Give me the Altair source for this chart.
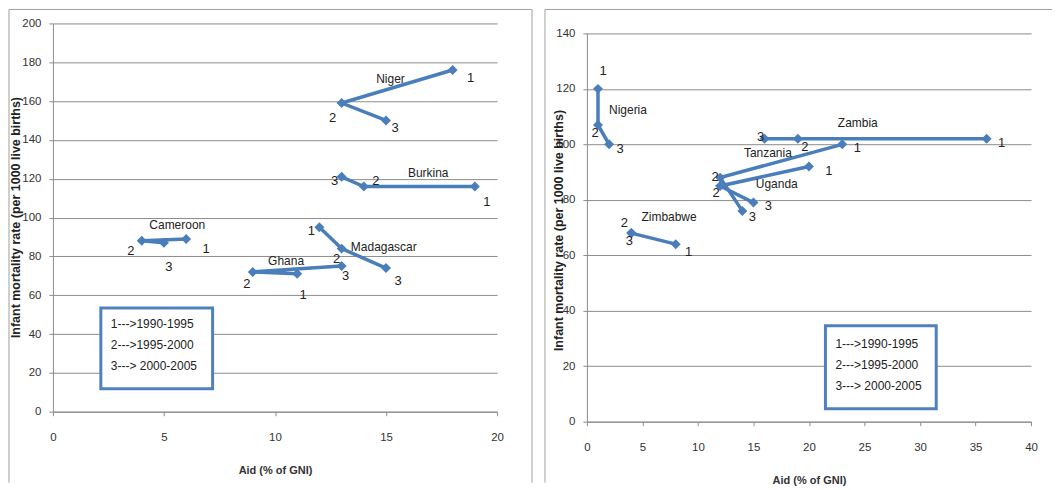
import altair as alt
import pandas as pd

# ---------------- data ----------------
left_country = ["Niger"] * 3 + ["Burkina"] * 3 + ["Cameroon"] * 3 + ["Madagascar"] * 3 + ["Ghana"] * 3
left_period = [1, 2, 3] * 5
left_aid = [18, 13, 15, 19, 14, 13, 6, 4, 5, 12, 13, 15, 11, 9, 13]
left_imr = [176, 159, 150, 116, 116, 121, 89, 88, 87, 95, 84, 74, 71, 72, 75]

right_country = ["Nigeria"] * 3 + ["Zambia"] * 3 + ["Tanzania"] * 3 + ["Uganda"] * 3 + ["Zimbabwe"] * 3
right_period = [1, 2, 3] * 5
right_aid = [1, 1, 2, 36, 19, 16, 23, 12, 14, 20, 12, 15, 8, 4, 4]
right_imr = [120, 107, 100, 102, 102, 102, 100, 88, 76, 92, 85, 79, 64, 68, 68]

legend_lines = ["1--->1990-1995", "2--->1995-2000", "3---> 2000-2005"]
x_title = "Aid (% of GNI)"
y_title = "Infant mortality rate (per 1000 live births)"

left_xticks = [0, 5, 10, 15, 20]
left_yticks = [0, 20, 40, 60, 80, 100, 120, 140, 160, 180, 200]
right_xticks = [0, 5, 10, 15, 20, 25, 30, 35, 40]
right_yticks = [0, 20, 40, 60, 80, 100, 120, 140]

# ---------------- layout (pixel offsets / label anchors) ----------------
left_dx = [18, -9, 9, 12, 12, -7, 20, -11, 5, -8, -5, 12, 6, -6, 4]
left_dy = [8, 15, 8, 16, -5, 4, 10, 10, 24, 4, 10, 13, 21, 12, 10]
right_dx = [5, -3, 11, 15, 7, -4, 15, -5, 10, 20, -4, 15, 13, -7, -2]
right_dy = [-18, 8, 5, 4, 8, -2, 4, -1, 6, 4, 7, 3, 8, -10, 8]

left_names = {"Niger": (15.2, 171.4), "Burkina": (16.9, 122.7), "Cameroon": (5.6, 96.4),
              "Madagascar": (14.9, 84.8), "Ghana": (10.5, 77.6)}
right_names = {"Nigeria": (3.7, 112.5), "Zambia": (24.4, 107.7), "Tanzania": (16.3, 96.9),
               "Uganda": (17.1, 85.8), "Zimbabwe": (7.4, 73.8)}

BLUE = "#4A7EBB"
GRID = "#8C8C8C"
FONT = "Liberation Sans"
W = 445


def make_df(country, period, aid, imr, dx, dy, xmax, ymax, plot_h):
    df = pd.DataFrame({"country": country, "period": period, "aid": aid, "imr": imr})
    df["lx"] = df["aid"] + pd.Series(dx) * (xmax / W)
    df["ly"] = df["imr"] - pd.Series(dy) * (ymax / plot_h)
    return df


def panel(df, names, xmax, ymax, xticks, yticks, height, yrange, frame, legend_box, legend_xy,
          ytitle_xy):
    xscale = alt.Scale(domain=[0, xmax], nice=False, zero=False)
    yscale = alt.Scale(domain=[0, ymax], nice=False, zero=False, range=yrange)
    xaxis = alt.Axis(values=xticks, title=x_title, grid=False, domainColor=GRID, tickColor=GRID,
                     tickSize=4, labelPadding=16, labelFontSize=11.5, labelColor="#333333",
                     labelFlush=False, labelOverlap=False,
                     titleFontSize=11, titleFontWeight="bold", titleColor="#333333",
                     titleX=W / 2, titleY=59, titleBaseline="middle")
    yaxis = alt.Axis(values=yticks, title=y_title, grid=True, gridColor=GRID, domainColor=GRID,
                     tickColor=GRID, tickSize=4, labelPadding=8, labelFontSize=11.5,
                     labelColor="#333333", labelFlush=False, labelOverlap=False,
                     titleFontSize=12.5, titleFontWeight="bold",
                     titleColor="#222222", titleX=ytitle_xy[0], titleY=ytitle_xy[1],
                     titleBaseline="middle", titleAngle=270)

    def X(f):
        return alt.X(f + ":Q", scale=xscale, axis=xaxis)

    def Y(f):
        return alt.Y(f + ":Q", scale=yscale, axis=yaxis)

    one = alt.Data(values=[{"k": 1}])
    fx0, fx1, fy0, fy1, right_edge = frame
    rules = [alt.Chart(one).mark_rule(color="#A0A0A0", strokeWidth=1).encode(
        x=alt.value(fx0), x2=alt.value(fx1), y=alt.value(fy0)),
        alt.Chart(one).mark_rule(color="#A0A0A0", strokeWidth=1).encode(
        x=alt.value(fx0), y=alt.value(fy0), y2=alt.value(fy1))]
    if right_edge:
        rules.append(alt.Chart(one).mark_rule(color="#A0A0A0", strokeWidth=1).encode(
            x=alt.value(fx1), y=alt.value(fy0), y2=alt.value(fy1)))

    base = alt.Chart(df)
    lines = base.mark_line(color=BLUE, strokeWidth=3.5).encode(
        x=X("aid"), y=Y("imr"), detail="country:N", order="period:Q")
    pts = base.mark_point(shape="diamond", filled=True, size=100, color=BLUE, opacity=1).encode(
        x=X("aid"), y=Y("imr"))
    nums = base.mark_text(font=FONT, fontSize=13, color="#222222").encode(
        x=X("lx"), y=Y("ly"), text="period:N")

    ndf = pd.DataFrame({"name": list(names.keys()),
                        "nx": [v[0] for v in names.values()],
                        "ny": [v[1] for v in names.values()]})
    name_txt = alt.Chart(ndf).mark_text(font=FONT, fontSize=12, color="#222222").encode(
        x=X("nx"), y=Y("ny"), text="name:N")

    bx0, bx1, by0, by1 = legend_box
    box = alt.Chart(one).mark_rect(fill="white", stroke="#4F81BD", strokeWidth=3).encode(
        x=alt.value(bx0), x2=alt.value(bx1), y=alt.value(by0), y2=alt.value(by1))
    ltxt = alt.Chart(one).mark_text(font=FONT, fontSize=12, color="#222222", align="left",
                                    baseline="top", lineBreak="\n", lineHeight=21,
                                    text="\n".join(legend_lines)).encode(
        x=alt.value(legend_xy[0]), y=alt.value(legend_xy[1]))

    return alt.layer(*rules, lines, pts, nums, name_txt, box, ltxt).properties(
        width=W, height=height)


ldf = make_df(left_country, left_period, left_aid, left_imr, left_dx, left_dy, 20, 200, 389)
rdf = make_df(right_country, right_period, right_aid, right_imr, right_dx, right_dy, 40, 140, 389)

left = panel(ldf, left_names, 20, 200, left_xticks, left_yticks, 389, [389, 0],
             (-44, 480, -14, 460, True), (48, 160, 285, 366), (58, 296), (-37, 194))
right = panel(rdf, right_names, 40, 140, right_xticks, right_yticks, 399, [399, 10],
              (-42, 466, -14, 460, False), (239, 350, 303, 386), (249, 316), (-28, 207))

chart = alt.hconcat(left, right, spacing=90, bounds="flush").properties(
    padding=0, background="white"
).configure_view(stroke=None).configure_axis(labelFont=FONT, titleFont=FONT)

chart.save("out.html", embed_options={"renderer": "svg", "actions": False})
